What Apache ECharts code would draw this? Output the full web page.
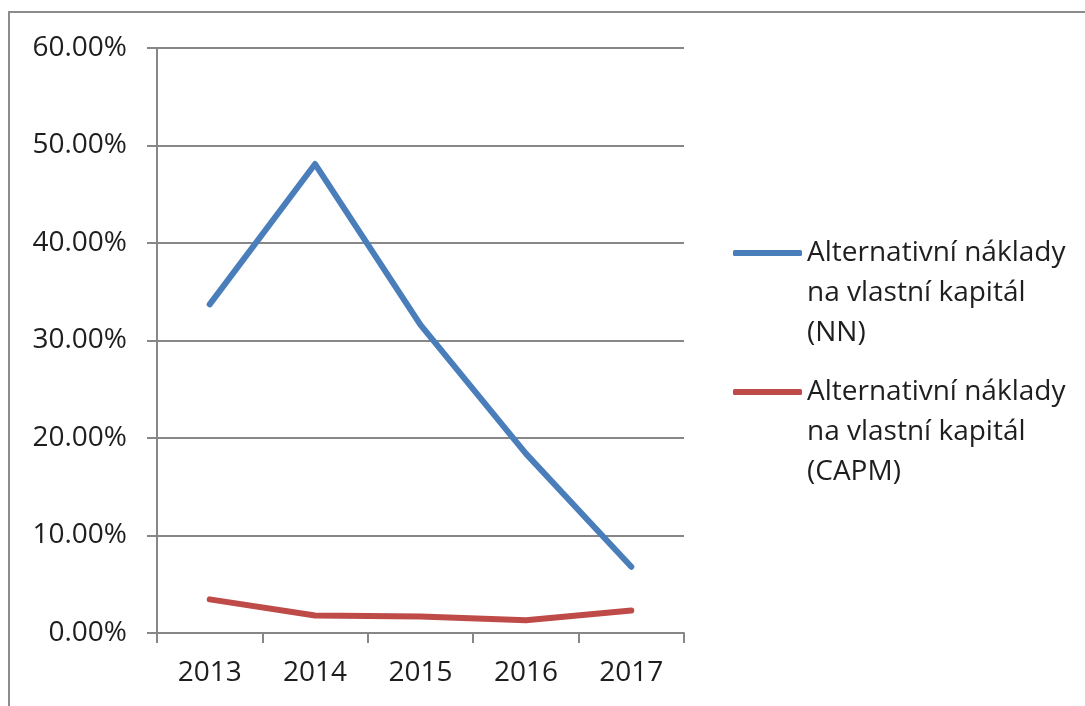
<!DOCTYPE html>
<html>
<head>
<meta charset="utf-8">
<script src="https://cdn.jsdelivr.net/npm/echarts@6/dist/echarts.min.js"></script>
<style>
  html, body { margin: 0; padding: 0; background: #fff; }
  #chart { width: 1085px; height: 706px; }
</style>
</head>
<body>
<div id="chart"></div>
<script>
// data
const years = ['2013', '2014', '2015', '2016', '2017'];
const nnValues = [33.7, 48.1, 31.6, 18.4, 6.8];
const capmValues = [3.45, 1.8, 1.7, 1.3, 2.3];
const nnName = 'Alternativní náklady\nna vlastní kapitál\n(NN)';
const capmName = 'Alternativní náklady\nna vlastní kapitál\n(CAPM)';

const blue = '#4a7ebb';
const red = '#be4b48';
const gridGray = '#878787';
const textColor = '#1e1e1e';
const font = '"Open Sans", sans-serif';

// legend text is centred on the icon, so two blank lines on top
// put the icon beside the first line (Excel style)
const legendBase = {
    left: 733,
    padding: 0,
    itemWidth: 69,
    itemHeight: 6,
    icon: 'roundRect',
    selectedMode: false,
    formatter: (name) => '\n\n' + name,
    textStyle: {
        color: textColor,
        fontFamily: font,
        fontSize: 28,
        lineHeight: 40
    }
};

const chart = echarts.init(document.getElementById('chart'));

chart.setOption({
    backgroundColor: '#fff',
    animation: false,
    graphic: [{
        type: 'rect',
        shape: { x: 9, y: 12, width: 3000, height: 3000 },
        style: { fill: 'none', stroke: '#8c8c8c', lineWidth: 2 },
        silent: true
    }],
    legend: [
        Object.assign({}, legendBase, { data: [nnName], top: 153 }),
        Object.assign({}, legendBase, { data: [capmName], top: 292 })
    ],
    grid: {
        left: 157,
        right: 401,
        top: 48,
        bottom: 73,
        containLabel: false
    },
    xAxis: {
        type: 'category',
        data: years,
        boundaryGap: true,
        axisLine: { lineStyle: { color: gridGray, width: 2 } },
        axisTick: { show: true, length: 10, lineStyle: { color: gridGray, width: 2 } },
        axisLabel: { color: textColor, fontFamily: font, fontSize: 28, margin: 26 },
        splitLine: { show: false }
    },
    yAxis: {
        type: 'value',
        min: 0,
        max: 60,
        interval: 10,
        axisLine: { show: true, lineStyle: { color: gridGray, width: 2 } },
        axisTick: { show: true, length: 10, lineStyle: { color: gridGray, width: 2 } },
        axisLabel: {
            color: textColor,
            fontFamily: font,
            fontSize: 28,
            margin: 30,
            formatter: (v) => v.toFixed(2) + '%'
        },
        splitLine: { show: true, lineStyle: { color: gridGray, width: 2 } }
    },
    series: [
        {
            name: nnName,
            type: 'line',
            data: nnValues,
            showSymbol: false,
            symbol: 'none',
            color: blue,
            lineStyle: { color: blue, width: 6, cap: 'round', join: 'round' }
        },
        {
            name: capmName,
            type: 'line',
            data: capmValues,
            showSymbol: false,
            symbol: 'none',
            color: red,
            lineStyle: { color: red, width: 6, cap: 'round', join: 'round' }
        }
    ]
});
</script>
</body>
</html>
